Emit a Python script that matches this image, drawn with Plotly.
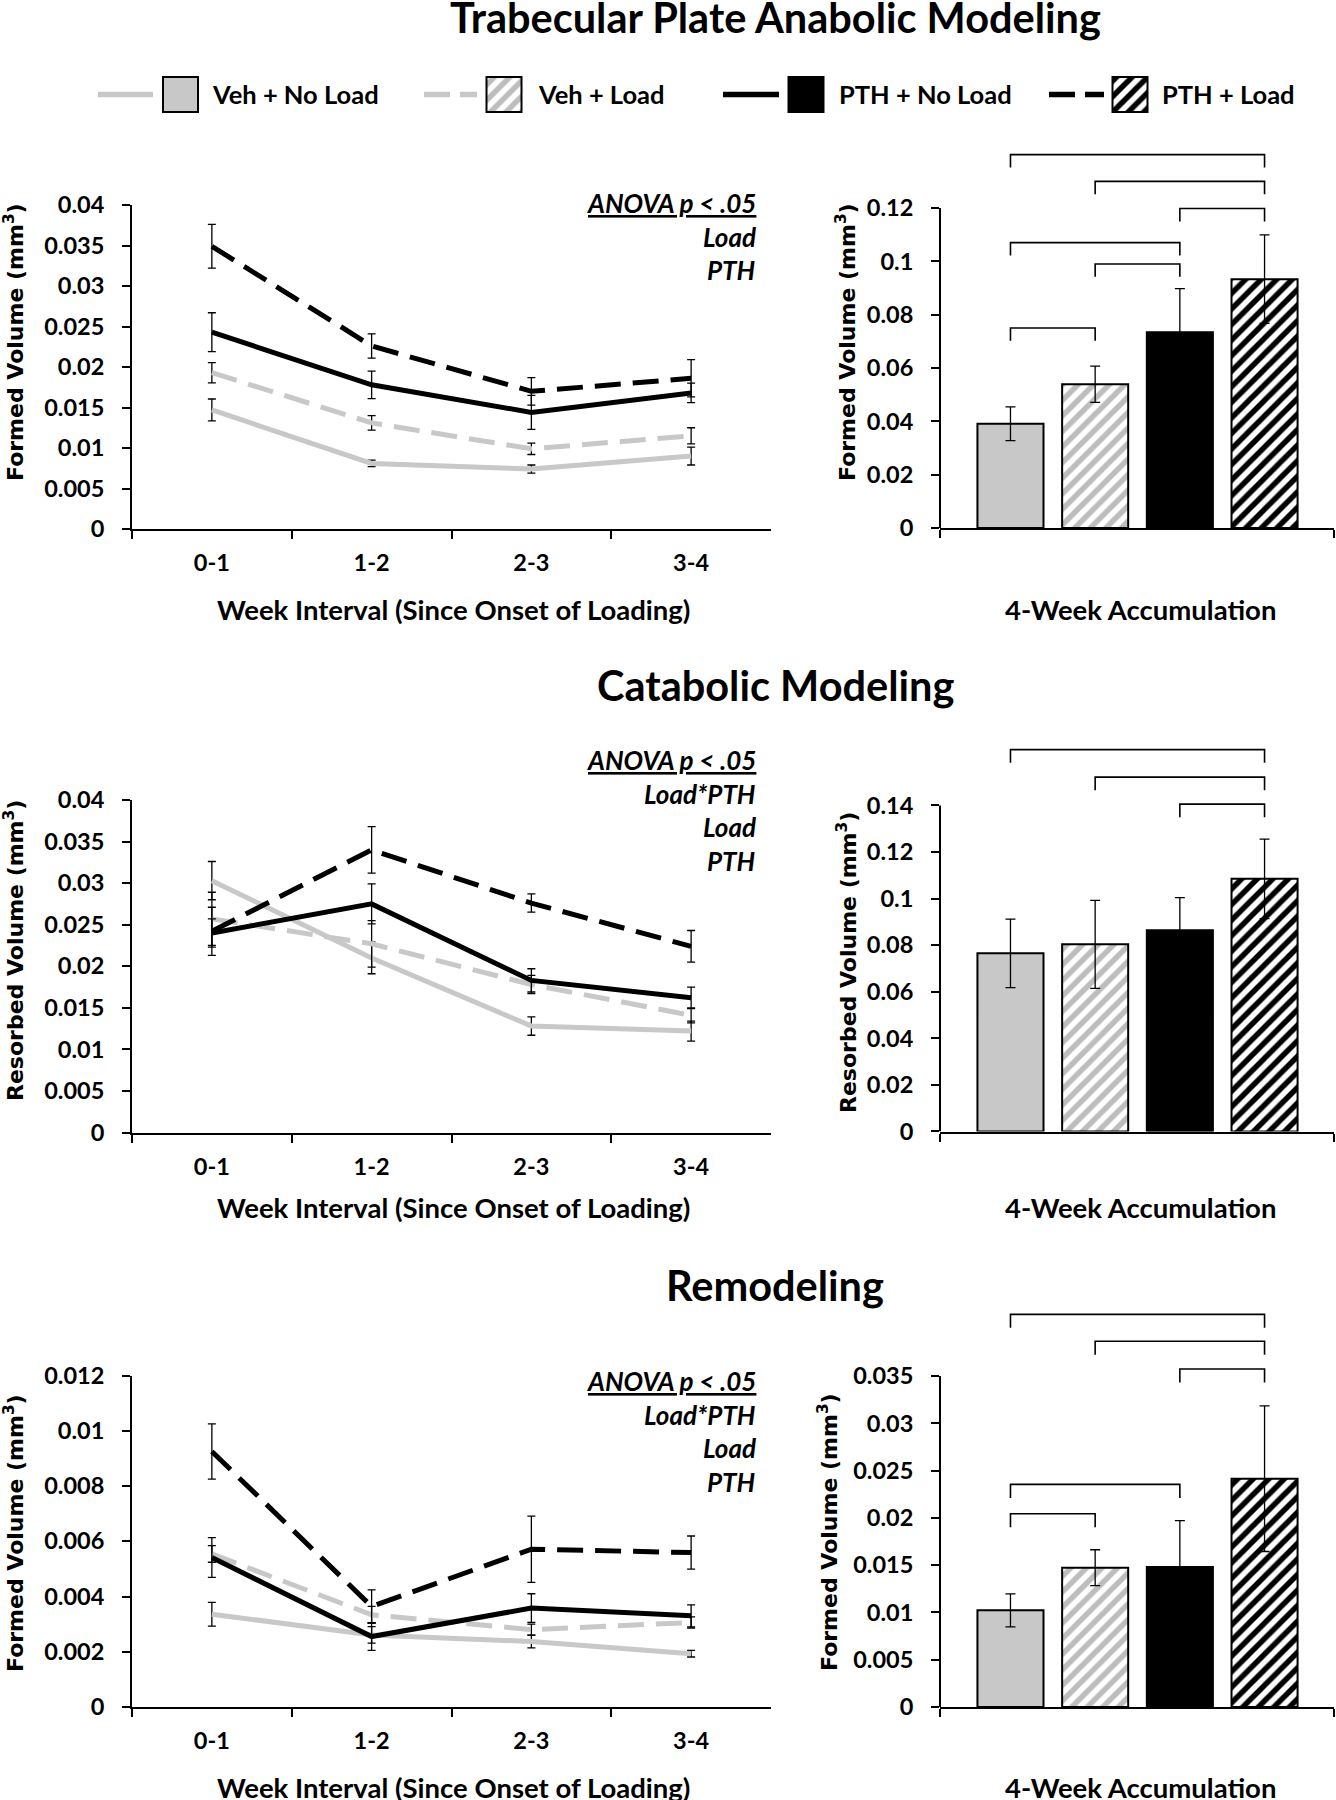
import plotly.graph_objects as go

W, H = 1336, 1800

groups = ['Veh + No Load', 'Veh + Load', 'PTH + No Load', 'PTH + Load']
weeks = ['0-1', '1-2', '2-3', '3-4']

# trabecular plate anabolic modeling, formed volume per week (mm^3)
ana_veh_noload = [0.0147, 0.0081, 0.0074, 0.0090]
ana_veh_noload_err = [0.00135, 0.0004, 0.0005, 0.0011]
ana_veh_load = [0.0193, 0.0131, 0.0099, 0.0115]
ana_veh_load_err = [0.00125, 0.0009, 0.0007, 0.0010]
ana_pth_noload = [0.0243, 0.0178, 0.0144, 0.0168]
ana_pth_noload_err = [0.0024, 0.0017, 0.0021, 0.0012]
ana_pth_load = [0.0349, 0.0226, 0.0170, 0.0186]
ana_pth_load_err = [0.0027, 0.0015, 0.0017, 0.0023]
ana_total = [0.0391, 0.0539, 0.0734, 0.0933]
ana_total_err = [0.0063, 0.0068, 0.0164, 0.0166]
ana_brackets = [(0, 3, 0.140), (1, 3, 0.130), (2, 3, 0.1198), (0, 2, 0.107), (1, 2, 0.099), (0, 1, 0.075)]
ana_effects = ['Load', 'PTH']

# catabolic modeling, resorbed volume per week (mm^3)
cat_veh_noload = [0.0303, 0.0210, 0.0128, 0.0122]
cat_veh_noload_err = [0.0023, 0.0019, 0.0011, 0.0012]
cat_veh_load = [0.0257, 0.0227, 0.0178, 0.0141]
cat_veh_load_err = [0.0032, 0.0028, 0.0011, 0.0009]
cat_pth_noload = [0.0240, 0.0275, 0.0183, 0.0162]
cat_pth_noload_err = [0.0017, 0.0024, 0.0014, 0.0013]
cat_pth_load = [0.0242, 0.0340, 0.0276, 0.0224]
cat_pth_load_err = [0.0029, 0.0028, 0.0011, 0.0019]
cat_total = [0.0765, 0.0804, 0.0864, 0.1085]
cat_total_err = [0.0147, 0.0189, 0.0140, 0.0171]
cat_brackets = [(0, 3, 0.164), (1, 3, 0.1522), (2, 3, 0.1406)]
cat_effects = ['Load*PTH', 'Load', 'PTH']

# remodeling, formed volume per week (mm^3)
rem_veh_noload = [0.00336, 0.00261, 0.00237, 0.00193]
rem_veh_noload_err = [0.00043, 0.0003, 0.00023, 0.00012]
rem_veh_load = [0.00554, 0.00334, 0.00280, 0.00306]
rem_veh_load_err = [0.0003, 0.0003, 0.0002, 0.0002]
rem_pth_noload = [0.00541, 0.00255, 0.00358, 0.00330]
rem_pth_noload_err = [0.00072, 0.0005, 0.00052, 0.0004]
rem_pth_load = [0.00925, 0.00364, 0.00571, 0.00559]
rem_pth_load_err = [0.0010, 0.0006, 0.0012, 0.0006]
rem_total = [0.01022, 0.01473, 0.0148, 0.02414]
rem_total_err = [0.00175, 0.0019, 0.0049, 0.0077]
rem_brackets = [(0, 3, 0.04152), (1, 3, 0.03867), (2, 3, 0.03574), (0, 2, 0.02354), (0, 1, 0.02044)]
rem_effects = ['Load*PTH', 'Load', 'PTH']

FONT = 'Lato'
GRAY = '#C8C8C8'
DASH = '26px,12px'

styles = [
    dict(color=GRAY, dash='solid', fill=GRAY, hatch=None),
    dict(color=GRAY, dash=DASH, fill='white', hatch='#BDBDBD'),
    dict(color='black', dash='solid', fill='black', hatch=None),
    dict(color='black', dash=DASH, fill='white', hatch='black'),
]

panels = [
    dict(title='Trabecular Plate Anabolic Modeling', title_y=17,
         weekly=[ana_veh_noload, ana_veh_load, ana_pth_noload, ana_pth_load],
         weekly_err=[ana_veh_noload_err, ana_veh_load_err, ana_pth_noload_err, ana_pth_load_err],
         total=ana_total, total_err=ana_total_err, brackets=ana_brackets, effects=ana_effects,
         label='Formed Volume (mm<sup>3</sup>)',
         line_px=(529, 205), line_max=0.04, line_step=0.005,
         bar_px=(528, 208), bar_max=0.12, bar_step=0.02, bar_top=0.142,
         line_lab_y=342, bar_lab=(846, 342), xlab_y=609, anova_y=203),
    dict(title='Catabolic Modeling', title_y=685,
         weekly=[cat_veh_noload, cat_veh_load, cat_pth_noload, cat_pth_load],
         weekly_err=[cat_veh_noload_err, cat_veh_load_err, cat_pth_noload_err, cat_pth_load_err],
         total=cat_total, total_err=cat_total_err, brackets=cat_brackets, effects=cat_effects,
         label='Resorbed Volume (mm<sup>3</sup>)',
         line_px=(1132.5, 800), line_max=0.04, line_step=0.005,
         bar_px=(1131.5, 805.5), bar_max=0.14, bar_step=0.02, bar_top=0.166,
         line_lab_y=951, bar_lab=(847, 963), xlab_y=1207, anova_y=760),
    dict(title='Remodeling', title_y=1285,
         weekly=[rem_veh_noload, rem_veh_load, rem_pth_noload, rem_pth_load],
         weekly_err=[rem_veh_noload_err, rem_veh_load_err, rem_pth_noload_err, rem_pth_load_err],
         total=rem_total, total_err=rem_total_err, brackets=rem_brackets, effects=rem_effects,
         label='Formed Volume (mm<sup>3</sup>)',
         line_px=(1707, 1375.5), line_max=0.012, line_step=0.002,
         bar_px=(1707, 1376), bar_max=0.035, bar_step=0.005, bar_top=0.042,
         line_lab_y=1533, bar_lab=(828, 1532), xlab_y=1787, anova_y=1381),
]


def fx(x):
    return x / W


def fy(y):
    return 1 - y / H


def ticks(vmax, step):
    n = int(round(vmax / step))
    vals = [round(i * step, 6) for i in range(n + 1)]
    return vals, [f'{v:g}' for v in vals]


def bar_marker(st):
    m = dict(color=st['fill'], line=dict(color='black', width=2))
    if st['hatch']:
        m['pattern'] = dict(shape='/', fgcolor=st['hatch'], bgcolor='white', fgopacity=1,
                            size=11, solidity=0.5)
    return m


tickfont = dict(family=FONT, size=23.5, color='black', weight='bold')
axis_common = dict(showgrid=False, zeroline=False, showline=True, linecolor='black', linewidth=2,
                   ticks='outside', ticklen=8, tickwidth=2, tickcolor='black', tickfont=tickfont,
                   automargin=False)

fig = go.Figure()
layout = {}
shapes = []
annotations = []

BAR_LO, BAR_HI = -0.832, 3.82
eff_font = dict(family=FONT, size=26, color='black', weight='bold', style='italic')
ylab_font = dict(family='DejaVu Sans', size=22, color='black', weight='bold')
xlab_font = dict(family=FONT, size=27.5, color='black', weight='bold')

for k, p in enumerate(panels):
    li, bi = 2 * k + 1, 2 * k + 2
    xl, yl = ('x', 'y') if li == 1 else (f'x{li}', f'y{li}')
    xb, yb = f'x{bi}', f'y{bi}'

    for g in range(4):
        st = styles[g]
        fig.add_trace(go.Scatter(
            x=weeks, y=p['weekly'][g], mode='lines', name=groups[g],
            line=dict(color=st['color'], width=5, dash=st['dash']),
            error_y=dict(type='data', array=p['weekly_err'][g], color='black', thickness=1.3, width=4),
            xaxis=xl, yaxis=yl, showlegend=False))

    for g in range(4):
        fig.add_trace(go.Bar(
            x=[g], y=[p['total'][g]], width=0.78, name=groups[g], marker=bar_marker(styles[g]),
            error_y=dict(type='data', array=[p['total_err'][g]], color='black', thickness=1.3, width=5),
            xaxis=xb, yaxis=yb, showlegend=False))

    l0, l1 = p['line_px']
    tv, tt = ticks(p['line_max'], p['line_step'])
    layout['xaxis' if li == 1 else f'xaxis{li}'] = dict(
        axis_common, type='category', range=[-0.5, 3.5], tickson='boundaries',
        domain=[fx(132), fx(771)], anchor=yl, ticklabelstandoff=12)
    layout['yaxis' if li == 1 else f'yaxis{li}'] = dict(
        axis_common, range=[0, p['line_max']], tickvals=tv, ticktext=tt,
        domain=[fy(l0), fy(l1)], anchor=xl, ticklabelstandoff=13)

    b0, b1 = p['bar_px']
    top_px = b0 - p['bar_top'] / p['bar_max'] * (b0 - b1)
    tv, tt = ticks(p['bar_max'], p['bar_step'])
    layout[f'xaxis{bi}'] = dict(
        axis_common, range=[BAR_LO, BAR_HI], tickvals=[BAR_LO, BAR_HI], showticklabels=False,
        domain=[fx(940), fx(1334)], anchor=yb)
    layout[f'yaxis{bi}'] = dict(
        axis_common, showline=False, range=[0, p['bar_top']], tickvals=tv, ticktext=tt,
        domain=[fy(b0), fy(top_px)], anchor=xb, ticklabelstandoff=13)
    # y axis line stops at the top tick; the brackets sit above it
    shapes.append(dict(type='line', xref=f'{xb} domain', yref=yb, x0=0, x1=0, y0=0, y1=p['bar_max'],
                       line=dict(color='black', width=2)))
    leg = 0.034 * p['bar_top']
    for a, b, h in p['brackets']:
        shapes.append(dict(type='path', xref=xb, yref=yb,
                           path=f'M {a},{h - leg} L {a},{h} L {b},{h} L {b},{h - leg}',
                           line=dict(color='black', width=1.6)))

    annotations.append(dict(text=f"<b>{p['title']}</b>", xref='paper', yref='paper', x=fx(775),
                            y=fy(p['title_y']), xanchor='center', yanchor='middle', showarrow=False,
                            font=dict(family=FONT, size=41.5, color='black')))
    annotations.append(dict(text='<u>ANOVA p &lt; .05</u>', xref='paper', yref='paper', x=fx(758),
                            y=fy(p['anova_y']), xanchor='right', yanchor='middle', showarrow=False,
                            font=eff_font))
    for j, eff in enumerate(p['effects']):
        annotations.append(dict(text=eff, xref='paper', yref='paper', x=fx(758),
                                y=fy(p['anova_y'] + 33.5 * (j + 1)), xanchor='right', yanchor='middle',
                                showarrow=False, font=eff_font))
    annotations.append(dict(text=p['label'], xref='paper', yref='paper', x=fx(14), y=fy(p['line_lab_y']),
                            textangle=-90, xanchor='center', yanchor='middle', showarrow=False, font=ylab_font))
    annotations.append(dict(text=p['label'], xref='paper', yref='paper',
                            x=fx(p['bar_lab'][0]), y=fy(p['bar_lab'][1]), textangle=-90,
                            xanchor='center', yanchor='middle', showarrow=False, font=ylab_font))
    annotations.append(dict(text='Week Interval (Since Onset of Loading)', xref='paper', yref='paper',
                            x=fx(453), y=fy(p['xlab_y']), xanchor='center', yanchor='middle',
                            showarrow=False, font=xlab_font))
    annotations.append(dict(text='4-Week Accumulation', xref='paper', yref='paper',
                            x=fx(1140), y=fy(p['xlab_y']), xanchor='center', yanchor='middle',
                            showarrow=False, font=xlab_font))

# legend strip drawn as its own little subplot (line sample, box, label)
leg_lines = [(98, 153), (424, 477), (723, 779), (1049, 1104)]
leg_boxes = [180.5, 504, 806, 1130]
leg_text = [210, 536, 837, 1160]
for g in range(4):
    st = styles[g]
    fig.add_trace(go.Scatter(x=list(leg_lines[g]), y=[0.5, 0.5], mode='lines',
                             line=dict(color=st['color'], width=5.5,
                                       dash=('26px,10px' if st['dash'] != 'solid' else 'solid')),
                             xaxis='x7', yaxis='y7', showlegend=False, hoverinfo='skip'))
    fig.add_trace(go.Bar(x=[leg_boxes[g]], y=[1], base=0, width=35, marker=bar_marker(st),
                         xaxis='x7', yaxis='y7', showlegend=False, hoverinfo='skip'))
    annotations.append(dict(text=f'<b>{groups[g]}</b>', xref='x7', yref='y7', x=leg_text[g], y=0.5,
                            xanchor='left', yanchor='middle', showarrow=False,
                            font=dict(family=FONT, size=25.5, color='black')))
layout['xaxis7'] = dict(range=[0, W], domain=[0, 1], visible=False, anchor='y7', automargin=False)
layout['yaxis7'] = dict(range=[-0.1, 1.1], domain=[fy(115.5), fy(73.5)], visible=False, anchor='x7',
                        automargin=False)

fig.update_layout(
    template='none',
    width=W, height=H, autosize=False,
    margin=dict(l=0, r=0, t=0, b=0, pad=0),
    paper_bgcolor='white', plot_bgcolor='white',
    barmode='overlay', showlegend=False,
    font=dict(family=FONT, color='black'),
    shapes=shapes, annotations=annotations,
    **layout,
)

# drop the browser's default 8px page margin so the figure sits at the window corner
fig.write_html('out.html', config={'displayModeBar': False},
               post_script="document.body.style.margin = '0px';")
